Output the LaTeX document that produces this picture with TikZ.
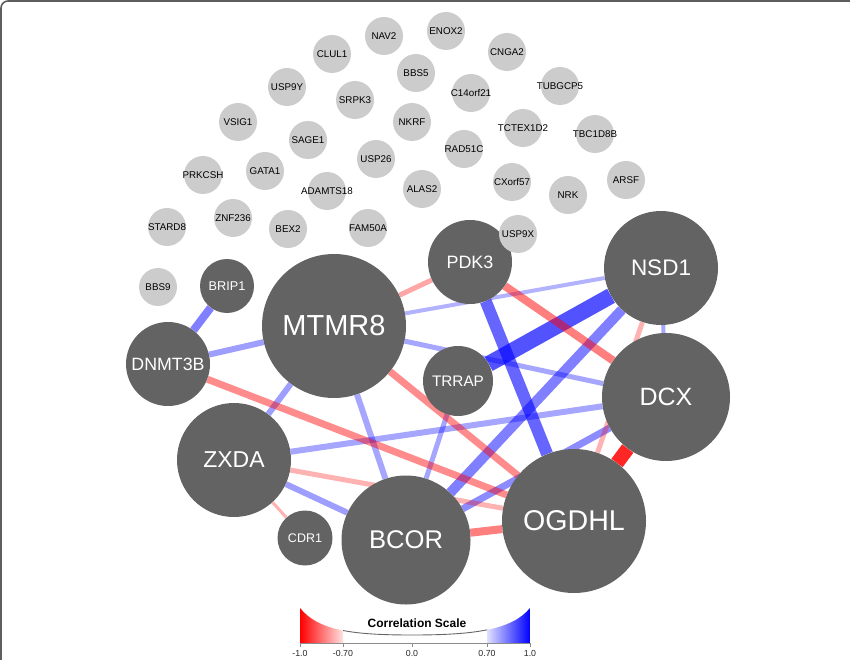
\documentclass[tikz,border=0pt]{standalone}
\usepackage{fontspec}
\setmainfont{Liberation Sans}
\usetikzlibrary{backgrounds}
\definecolor{hubgray}{HTML}{636363}
\definecolor{leafgray}{HTML}{CCCCCC}
\definecolor{framegray}{HTML}{5E5E5E}

\begin{document}
\begin{tikzpicture}[x=1pt, y=-1pt,
  hub/.style args={#1/#2}{circle, fill=hubgray, text=white, inner sep=0pt, minimum size=#1pt, font=\fontsize{#2}{#2}\selectfont},
  leaf/.style={circle, fill=leafgray, inner sep=0pt, minimum size=38pt,
    label={[font=\fontsize{9.8}{10}\selectfont, inner sep=0pt]center:#1}},
  poscor/.style args={#1/#2}{draw=blue, line width=#1pt, draw opacity=#2},
  negcor/.style args={#1/#2}{draw=red, line width=#1pt, draw opacity=#2},
  ticklabel/.style={font=\fontsize{8.8}{9}\selectfont, text=black!85}]
  \useasboundingbox (0,0) rectangle (850,660);
  \draw[framegray, line width=1.6pt, rounded corners=7pt] (1,660) -- (1,1) -- (850,1);

  \node (mtmr8) [hub=144/29] at (334,326) {MTMR8};
  \node (brip1) [hub=54/12.7] at (227,286) {BRIP1};
  \node (dnmt3b) [hub=84/17.8] at (168,364) {DNMT3B};
  \node (pdk3) [hub=84/17.9] at (470,262) {PDK3};
  \node (nsd1) [hub=114/22.5] at (661,268) {NSD1};
  \node (dcx) [hub=128/25] at (666,397) {DCX};
  \node (trrap) [hub=70/15.3] at (458,381) {TRRAP};
  \node (ogdhl) [hub=144/28.6] at (574,521) {OGDHL};
  \node (zxda) [hub=114/23] at (234,460) {ZXDA};
  \node (cdr1) [hub=55/12.5] at (305,538) {CDR1};
  \node (bcor) [hub=129/25.6] at (406,540) {BCOR};

  \node (nav2) [leaf=NAV2] at (384,36) {};
  \node (enox2) [leaf=ENOX2] at (446,31) {};
  \node (clul1) [leaf=CLUL1] at (332,54) {};
  \node (cnga2) [leaf=CNGA2] at (507,52) {};
  \node (bbs5) [leaf=BBS5] at (416,73) {};
  \node (usp9y) [leaf=USP9Y] at (287,87) {};
  \node (srpk3) [leaf=SRPK3] at (355,100) {};
  \node (c14orf21) [leaf=C14orf21] at (471,93) {};
  \node (tubgcp5) [leaf=TUBGCP5] at (560,86) {};
  \node (vsig1) [leaf=VSIG1] at (238,122) {};
  \node (nkrf) [leaf=NKRF] at (412,122) {};
  \node (tctex1d2) [leaf=TCTEX1D2] at (523,128) {};
  \node (tbc1d8b) [leaf=TBC1D8B] at (595,134) {};
  \node (sage1) [leaf=SAGE1] at (308,140) {};
  \node (rad51c) [leaf=RAD51C] at (464,149) {};
  \node (usp26) [leaf=USP26] at (376,159) {};
  \node (prkcsh) [leaf=PRKCSH] at (203,175) {};
  \node (gata1) [leaf=GATA1] at (265,171) {};
  \node (adamts18) [leaf=ADAMTS18] at (327,191) {};
  \node (alas2) [leaf=ALAS2] at (422,189) {};
  \node (cxorf57) [leaf=CXorf57] at (512,182) {};
  \node (nrk) [leaf=NRK] at (568,195) {};
  \node (arsf) [leaf=ARSF] at (626,180) {};
  \node (stard8) [leaf=STARD8] at (167,227) {};
  \node (znf236) [leaf=ZNF236] at (233,218) {};
  \node (bex2) [leaf=BEX2] at (288,229) {};
  \node (fam50a) [leaf=FAM50A] at (368,228) {};
  \node (usp9x) [leaf=USP9X] at (518,234) {};
  \node (bbs9) [leaf=BBS9] at (158,287) {};

  \begin{scope}[on background layer]
    \draw[poscor=8/0.5] (brip1) -- (dnmt3b);
    \draw[poscor=6/0.38] (dnmt3b) -- (mtmr8);
    \draw[poscor=6/0.38] (zxda) -- (mtmr8);
    \draw[poscor=6/0.35] (mtmr8) -- (bcor);
    \draw[poscor=4/0.3] (mtmr8) -- (nsd1);
    \draw[poscor=5/0.35] (mtmr8) -- (dcx);
    \draw[poscor=12/0.6] (pdk3) -- (ogdhl);
    \draw[poscor=16/0.68] (trrap) -- (nsd1);
    \draw[poscor=10/0.5] (nsd1) -- (bcor);
    \draw[poscor=4/0.35] (nsd1) -- (dcx);
    \draw[poscor=7/0.45] (dcx) -- (bcor);
    \draw[poscor=6/0.35] (zxda) -- (dcx);
    \draw[poscor=6/0.38] (zxda) -- (bcor);
    \draw[poscor=5/0.35] (trrap) -- (bcor);
    \draw[negcor=7/0.45] (dnmt3b) -- (ogdhl);
    \draw[negcor=7/0.45] (mtmr8) -- (ogdhl);
    \draw[negcor=5/0.35] (mtmr8) -- (pdk3);
    \draw[negcor=8/0.5] (pdk3) -- (dcx);
    \draw[negcor=5/0.3] (nsd1) -- (ogdhl);
    \draw[negcor=14/0.85] (dcx) -- (ogdhl);
    \draw[negcor=5/0.3] (zxda) -- (ogdhl);
    \draw[negcor=3/0.3] (zxda) -- (cdr1);
    \draw[negcor=8/0.5] (bcor) -- (ogdhl);
  \end{scope}

  \begin{scope}
    \clip (300,608) .. controls (318,630) and (350,635) .. (412,635)
      .. controls (474,635) and (512,630) .. (530,608) -- (530,643) -- (300,643) -- cycle;
    \shade[left color=red, right color=red!12] (300,600) rectangle (343,645);
    \shade[left color=blue!12, right color=blue] (487,600) rectangle (530,645);
  \end{scope}
  \begin{scope}
    \clip (343,600) rectangle (487,645);
    \draw[black!60, line width=0.9pt] (300,608) .. controls (318,630) and (350,635) .. (412,635)
      .. controls (474,635) and (512,630) .. (530,608);
  \end{scope}
  \draw[black!45, line width=0.8pt] (300,643) -- (530,643);
  \node (scaletitle) [font=\bfseries\fontsize{12}{12}\selectfont] at (417,623) {Correlation Scale};
  \foreach \x/\t/\n in {300/-1.0/tma, 343/-0.70/tmb, 412/0.0/tmc, 487/0.70/tmd, 530/1.0/tme} {
    \draw[black!45, line width=0.8pt] (\x,643) -- (\x,647);
    \node (\n) [ticklabel] at (\x,653) {\t};
  }
\end{tikzpicture}
\end{document}
